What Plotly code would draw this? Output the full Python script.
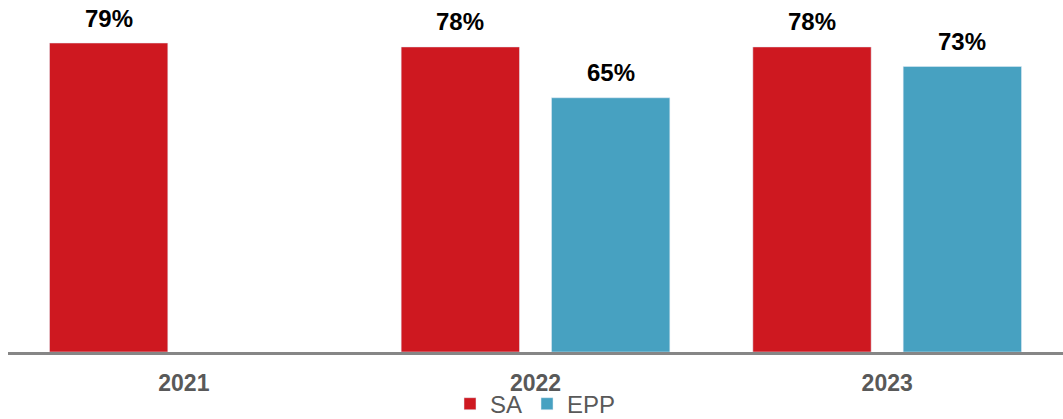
import plotly.graph_objects as go

years = ["2021", "2022", "2023"]
sa_values = [79, 78, 78]
epp_values = [None, 65, 73]

RED = "#CE1820"
BLUE = "#47A1C1"
GRAY = "#595959"
FONT = "Arial, Liberation Sans, sans-serif"

W, H = 1063, 419
M_L, M_R, M_T, M_B = 8, 0, 0, 67
BARGAP, BARGROUPGAP = 0.145, 0.213

fig = go.Figure()
fig.add_trace(go.Bar(name="SA", x=years, y=sa_values, marker_color=RED))
fig.add_trace(go.Bar(name="EPP", x=years, y=epp_values, marker_color=BLUE))

# value labels, placed above each bar in its group slot
plot_w = W - M_L - M_R
cat_w = plot_w / len(years)
slot_w = cat_w * (1 - BARGAP) / 2
series = [(sa_values, -slot_w / 2), (epp_values, slot_w / 2)]
for vals, dx in series:
    for i, v in enumerate(vals):
        if v is None:
            continue
        fig.add_annotation(
            x=i, y=v, xref="x", yref="y", text=f"{v}%", showarrow=False,
            xshift=dx, yshift=25, yanchor="middle", xanchor="center",
            font=dict(family=FONT, size=24, color="black", weight="bold"),
        )

fig.update_layout(
    width=W, height=H,
    margin=dict(l=M_L, r=M_R, t=M_T, b=M_B, autoexpand=False),
    paper_bgcolor="white", plot_bgcolor="white",
    barmode="group", bargap=BARGAP, bargroupgap=BARGROUPGAP,
    font=dict(family=FONT, color=GRAY),
    showlegend=True,
    legend=dict(orientation="h", x=0.5, xanchor="center", y=-0.148, yanchor="middle",
                font=dict(family=FONT, size=24, color=GRAY), itemclick=False,
                bgcolor="rgba(0,0,0,0)"),
    xaxis=dict(type="category", showline=True, linecolor="#868686", linewidth=3, ticks="",
               tickfont=dict(family=FONT, size=23, color=GRAY, weight="bold"),
               ticklabelstandoff=8,
               showgrid=False, zeroline=False, fixedrange=True),
    yaxis=dict(range=[0, 90], visible=False, showgrid=False, zeroline=False, fixedrange=True),
)

fig.write_html("out.html")
